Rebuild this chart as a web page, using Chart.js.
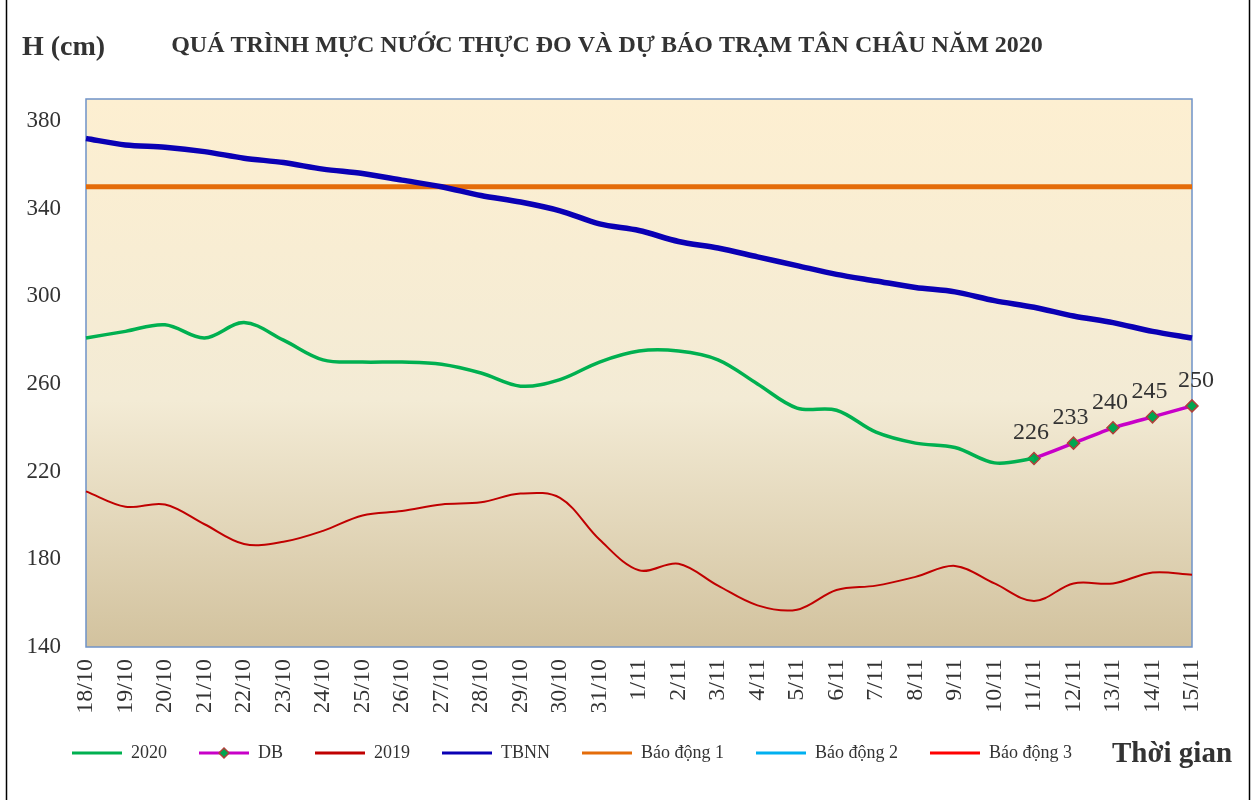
<!DOCTYPE html>
<html lang="vi">

<head>
    <meta charset="UTF-8">
    <title>Mực nước Tân Châu 2020</title>
    <script src="https://cdn.jsdelivr.net/npm/chart.js"></script>
    <style>
        body { margin: 0; background: #fff; }
    </style>
</head>

<body>
    <canvas id="mucNuocChart" width="1254" height="800"></canvas>

    <script>
        // Ngày (trục hoành)
        const days = ['18/10', '19/10', '20/10', '21/10', '22/10', '23/10', '24/10', '25/10', '26/10', '27/10',
            '28/10', '29/10', '30/10', '31/10', '1/11', '2/11', '3/11', '4/11', '5/11', '6/11', '7/11',
            '8/11', '9/11', '10/11', '11/11', '12/11', '13/11', '14/11', '15/11'];

        // Số liệu (cm)
        const h2020 = [281, 284, 287, 281, 288, 280, 271, 270, 270, 269, 265, 259, 262, 270, 275, 275, 271,
            260, 249, 248, 238, 233, 231, 224, 226, null, null, null, null];
        const duBao = [null, null, null, null, null, null, null, null, null, null, null, null, null, null,
            null, null, null, null, null, null, null, null, null, null, 226, 233, 240, 245, 250];
        const h2019 = [211, 204, 205, 196, 187, 188, 193, 200, 202, 205, 206, 210, 208, 189, 175, 178, 168,
            159, 157, 166, 168, 172, 177, 169, 161, 169, 169, 174, 173];
        const tbnn = [372, 369, 368, 366, 363, 361, 358, 356, 353, 350, 346, 343, 339, 333, 330, 325, 322,
            318, 314, 310, 307, 304, 302, 298, 295, 291, 288, 284, 281];
        const baoDong1 = days.map(() => 350);
        const baoDong2 = days.map(() => 400);
        const baoDong3 = days.map(() => 450);

        const yTicks = [140, 180, 220, 260, 300, 340, 380];

        Chart.defaults.font.family = '"Liberation Serif", "Times New Roman", serif';
        Chart.defaults.color = '#333';

        // nền vùng vẽ, khung, tiêu đề
        const decorPlugin = {
            id: 'decor',
            afterLayout(chart) {
                // dời chú thích sang phải cho giống bản gốc
                chart.legend.left += 40;
                chart.legend.right += 40;
            },
            beforeDatasetsDraw(chart) {
                const { ctx, chartArea: a } = chart;
                ctx.save();
                const g = ctx.createLinearGradient(0, a.top, 0, a.bottom);
                g.addColorStop(0, '#FDEFD1');
                g.addColorStop(0.55, '#F3EBD5');
                g.addColorStop(1, '#D2C29E');
                ctx.fillStyle = g;
                ctx.fillRect(a.left, a.top, a.right - a.left, a.bottom - a.top);
                ctx.strokeStyle = '#6F93C8';
                ctx.lineWidth = 1.5;
                ctx.strokeRect(a.left, a.top, a.right - a.left, a.bottom - a.top);
                ctx.restore();
            },
            afterDraw(chart) {
                const { ctx } = chart;
                ctx.save();
                // khung ngoài
                ctx.strokeStyle = '#000';
                ctx.lineWidth = 1.5;
                ctx.beginPath();
                ctx.moveTo(6.5, 0); ctx.lineTo(6.5, 800);
                ctx.moveTo(1249.5, 0); ctx.lineTo(1249.5, 800);
                ctx.stroke();

                ctx.fillStyle = '#333';
                ctx.textBaseline = 'alphabetic';
                ctx.textAlign = 'left';
                ctx.font = 'bold 28px "Liberation Serif", serif';
                ctx.fillText('H (cm)', 22, 55);
                ctx.textAlign = 'center';
                ctx.font = 'bold 24px "Liberation Serif", serif';
                ctx.fillText('QUÁ TRÌNH MỰC NƯỚC THỰC ĐO VÀ DỰ BÁO TRẠM TÂN CHÂU NĂM 2020', 607, 52);
                ctx.textAlign = 'left';
                ctx.font = 'bold 29px "Liberation Serif", serif';
                ctx.fillText('Thời gian', 1112, 762);

                // nhãn số liệu dự báo
                const meta = chart.getDatasetMeta(1);
                ctx.font = '24px "Liberation Serif", serif';
                ctx.textAlign = 'center';
                meta.data.forEach((pt, i) => {
                    if (duBao[i] == null) return;
                    const dx = i === meta.data.length - 1 ? 4 : -3;
                    ctx.fillText(String(duBao[i]), pt.x + dx, pt.y - 19);
                });

                // ký hiệu hình thoi trong chú thích DB
                const hb = chart.legend.legendHitBoxes[1];
                if (hb) {
                    const cx = hb.left + 25, cy = hb.top + hb.height / 2;
                    ctx.beginPath();
                    ctx.moveTo(cx, cy - 5); ctx.lineTo(cx + 5, cy); ctx.lineTo(cx, cy + 5); ctx.lineTo(cx - 5, cy);
                    ctx.closePath();
                    ctx.fillStyle = '#00A650';
                    ctx.fill();
                    ctx.strokeStyle = '#B0403A';
                    ctx.lineWidth = 1.5;
                    ctx.stroke();
                }
                ctx.restore();
            }
        };

        const ctx = document.getElementById('mucNuocChart').getContext('2d');
        const myChart = new Chart(ctx, {
            type: 'line',
            data: {
                labels: days,
                datasets: [
                    { label: '2020', data: h2020, borderColor: '#00B050', borderWidth: 3.5, pointRadius: 0, tension: 0.35 },
                    {
                        label: 'DB', data: duBao, borderColor: '#C800C8', borderWidth: 3.5, tension: 0.2,
                        pointStyle: 'rectRot', pointRadius: 6, pointBackgroundColor: '#00A650',
                        pointBorderColor: '#B0403A', pointBorderWidth: 1.5
                    },
                    { label: '2019', data: h2019, borderColor: '#C00000', borderWidth: 2, pointRadius: 0, tension: 0.35 },
                    { label: 'TBNN', data: tbnn, borderColor: '#0A00B4', borderWidth: 5.5, pointRadius: 0, tension: 0.3 },
                    { label: 'Báo động 1', data: baoDong1, borderColor: '#E46C0A', borderWidth: 5, pointRadius: 0 },
                    { label: 'Báo động 2', data: baoDong2, borderColor: '#00B0F0', borderWidth: 3, pointRadius: 0 },
                    { label: 'Báo động 3', data: baoDong3, borderColor: '#FF0000', borderWidth: 3, pointRadius: 0 }
                ]
            },
            options: {
                responsive: false,
                animation: false,
                layout: { padding: { top: 99, left: 0, right: 62, bottom: 28 } },
                plugins: {
                    tooltip: { enabled: false },
                    legend: {
                        position: 'bottom',
                        align: 'start',
                        labels: {
                            padding: 32,
                            usePointStyle: true,
                            pointStyleWidth: 50,
                            font: { size: 18 },
                            color: '#333',
                            generateLabels(chart) {
                                return Chart.defaults.plugins.legend.labels.generateLabels(chart).map(item => {
                                    item.pointStyle = 'line';
                                    item.lineWidth = 3;
                                    item.strokeStyle = chart.data.datasets[item.datasetIndex].borderColor;
                                    return item;
                                });
                            }
                        }
                    }
                },
                scales: {
                    x: {
                        offset: false,
                        grid: { display: false },
                        border: { display: false },
                        ticks: { autoSkip: false, maxRotation: 90, minRotation: 90, padding: 4, font: { size: 24 } },
                        afterFit(scale) { scale.height = 65; }
                    },
                    y: {
                        min: 140,
                        max: 390,
                        grid: { display: false },
                        border: { display: false },
                        ticks: { padding: 17, font: { size: 23 } },
                        afterBuildTicks(scale) { scale.ticks = yTicks.map(v => ({ value: v })); },
                        afterFit(scale) { scale.width = 86; }
                    }
                }
            },
            plugins: [decorPlugin]
        });
    </script>
</body>

</html>
